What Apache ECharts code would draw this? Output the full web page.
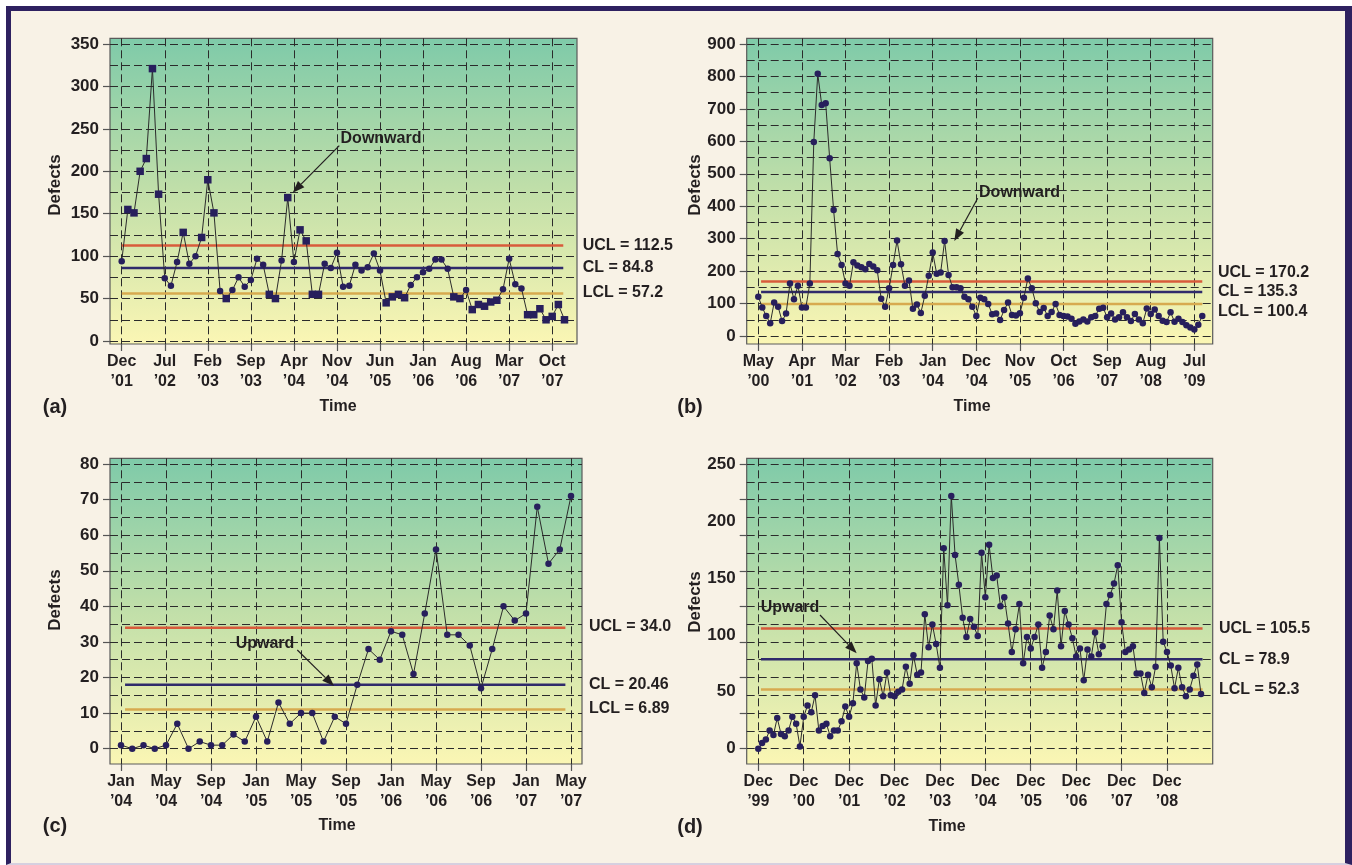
<!DOCTYPE html>
<html>
<head>
<meta charset="utf-8">
<script src="https://cdn.jsdelivr.net/npm/echarts@6/dist/echarts.min.js"></script>
<style>
  html, body { margin: 0; padding: 0; background: #fff; }
  #frame { position: absolute; left: 6px; top: 6px; width: 1334px; height: 852px;
           border: 5px solid #2e2160; border-right-width: 7px; border-bottom: 2px solid #d6d0e0;
           background: #f8f2e6; }
  #chart { position: absolute; left: 0; top: 0; width: 1352px; height: 865px; }
</style>
</head>
<body>
<div id="frame"></div>
<div id="chart"></div>
<script>
// ---- data (monthly defect counts) ----
var aTicks = ['Dec\n\u201901', 'Jul\n\u201902', 'Feb\n\u201903', 'Sep\n\u201903', 'Apr\n\u201904', 'Nov\n\u201904',
              'Jun\n\u201905', 'Jan\n\u201906', 'Aug\n\u201906', 'Mar\n\u201907', 'Oct\n\u201907'];
var aDefects = [94, 155, 151, 200, 215, 321, 173, 74, 65, 93,
                128, 91, 100, 122, 190, 151, 59, 50, 60, 75,
                64, 72, 97, 90, 55, 50, 95, 169, 93, 131,
                118, 55, 55, 91, 86, 104, 64, 65, 90, 83,
                87, 103, 83, 45, 52, 55, 51, 66, 75, 81,
                85, 96, 96, 85, 52, 50, 60, 37, 43, 41,
                46, 48, 61, 97, 67, 62, 31, 31, 38, 25,
                29, 43, 25];
var aLimits = [112.5, 86, 56];           // UCL, CL, LCL as drawn
var aLimitText = ['UCL = 112.5', 'CL = 84.8', 'LCL = 57.2'];
var aLimitSpan = [0, 71.8];              // months covered by the limit lines

var bTicks = ['May\n\u201900', 'Apr\n\u201901', 'Mar\n\u201902', 'Feb\n\u201903', 'Jan\n\u201904', 'Dec\n\u201904',
              'Nov\n\u201905', 'Oct\n\u201906', 'Sep\n\u201907', 'Aug\n\u201908', 'Jul\n\u201909'];
var bDefects = [121, 88, 62, 39, 103, 90, 46, 69, 162, 113,
                155, 88, 88, 162, 598, 808, 712, 717, 548, 388,
                253, 219, 162, 155, 227, 217, 212, 206, 222, 214,
                203, 115, 90, 147, 219, 294, 221, 155, 171, 84,
                97, 71, 124, 186, 257, 192, 196, 293, 188, 150,
                150, 147, 121, 113, 90, 62, 118, 113, 99, 67,
                69, 49, 80, 103, 65, 63, 70, 118, 177, 147,
                101, 74, 86, 62, 74, 99, 65, 62, 60, 53,
                38, 45, 51, 45, 58, 62, 84, 87, 58, 69,
                51, 58, 73, 58, 46, 68, 51, 39, 85, 68,
                82, 62, 47, 43, 73, 44, 53, 43, 33, 26,
                20, 35, 62];
var bLimits = [168, 135.3, 99];
var bLimitText = ['UCL = 170.2', 'CL = 135.3', 'LCL = 100.4'];
var bLimitSpan = [0.7, 112];

var cTicks = ['Jan\n\u201904', 'May\n\u201904', 'Sep\n\u201904', 'Jan\n\u201905', 'May\n\u201905', 'Sep\n\u201905',
              'Jan\n\u201906', 'May\n\u201906', 'Sep\n\u201906', 'Jan\n\u201907', 'May\n\u201907'];
var cDefects = [1, 0, 1, 0, 1, 7, 0, 2, 1, 1,
                4, 2, 9, 2, 13, 7, 10, 10, 2, 9,
                7, 18, 28, 25, 33, 32, 21, 38, 56, 32,
                32, 29, 17, 28, 40, 36, 38, 68, 52, 56,
                71];
var cLimits = [34, 18, 11];
var cLimitText = ['UCL = 34.0', 'CL = 20.46', 'LCL = 6.89'];
var cLimitSpan = [0.36, 39.5];

var dTicks = ['Dec\n\u201999', 'Dec\n\u201900', 'Dec\n\u201901', 'Dec\n\u201902', 'Dec\n\u201903',
              'Dec\n\u201904', 'Dec\n\u201905', 'Dec\n\u201906', 'Dec\n\u201907', 'Dec\n\u201908'];
var dDefects = [0, 5, 8, 16, 12, 27, 13, 11, 16, 28,
                22, 2, 28, 38, 32, 47, 16, 20, 22, 11,
                16, 16, 24, 37, 28, 40, 75, 52, 45, 77,
                79, 38, 61, 46, 67, 47, 46, 50, 52, 72,
                57, 82, 65, 67, 118, 89, 109, 92, 71, 176,
                126, 222, 170, 144, 115, 98, 114, 107, 99, 172,
                133, 179, 150, 152, 125, 133, 110, 85, 105, 127,
                75, 98, 88, 98, 109, 71, 85, 117, 105, 139,
                90, 121, 109, 97, 81, 88, 60, 87, 81, 102,
                83, 90, 127, 135, 145, 161, 111, 85, 87, 90,
                66, 66, 49, 65, 54, 72, 185, 94, 85, 73,
                53, 71, 54, 46, 52, 64, 74, 48];
var dLimits = [105.5, 78.5, 52];
var dLimitText = ['UCL = 105.5', 'CL = 78.9', 'LCL = 52.3'];
var dLimitSpan = [0.7, 117.4];

// ---- styling ----
var FONT = '"Liberation Sans", Arial, sans-serif';
var INK = '#231f20';
var GRIDLINE = { type: [8, 4], color: '#2b2b2b', width: 1 };
var LIMIT_COLORS = ['#d85b3b', '#2f2a6b', '#d7aa4f'];
var DOT = '#271f5c';

var grids = [], xAxes = [], yAxes = [], series = [], elements = [];

function addPanel(p) {
  var box = p.box;
  var lastTick = (p.ticks.length - 1) * p.step;
  var xLast = p.x0 + lastTick * p.pxm;
  var pxu = (p.y0 - p.yTop) / p.yMax;

  // plot background
  elements.push({
    type: 'rect', z: -10, silent: true,
    shape: { x: box.l, y: box.t, width: box.r - box.l, height: box.b - box.t },
    style: {
      fill: new echarts.graphic.LinearGradient(0, 0, 0, 1, [
        { offset: 0, color: '#7ecaa9' },
        { offset: 0.5, color: '#c1dfa9' },
        { offset: 1, color: '#fbf6b4' }
      ]),
      stroke: '#5a5a5a', lineWidth: 1.2
    }
  });

  // vertical gridlines + time labels (full box height)
  var g = grids.length;
  grids.push({ left: p.x0, top: box.t, width: xLast - p.x0, height: box.b - box.t });
  xAxes.push({
    gridIndex: g, type: 'value', min: 0, max: lastTick, interval: p.step,
    axisLine: { show: false },
    axisTick: { length: 7, lineStyle: { color: '#555', width: 1.2 } },
    axisLabel: {
      showMinLabel: true, showMaxLabel: true, margin: 8,
      fontFamily: FONT, fontWeight: 'bold', fontSize: 16, lineHeight: 20, color: INK,
      formatter: function (v) { return p.ticks[Math.round(v / p.step)] || ''; }
    },
    splitLine: { show: true, lineStyle: GRIDLINE }
  });
  yAxes.push({ gridIndex: g, type: 'value', show: false, min: 0, max: 1 });

  // horizontal gridlines + defect labels (full box width)
  g = grids.length;
  grids.push({ left: box.l, top: p.yTop, width: box.r - box.l, height: p.y0 - p.yTop });
  xAxes.push({ gridIndex: g, type: 'value', show: false, min: 0, max: 1 });
  yAxes.push({
    gridIndex: g, type: 'value', position: 'left', min: 0, max: p.yMax, interval: p.yStep,
    axisLine: { show: false },
    axisTick: { length: 7, lineStyle: { color: '#555', width: 1.2 } },
    axisLabel: {
      show: !p.labelStep, margin: 11,
      fontFamily: FONT, fontWeight: 'bold', fontSize: 17, color: INK
    },
    splitLine: { show: true, lineStyle: GRIDLINE },
    minorTick: { show: false, splitNumber: 2 },
    minorSplitLine: { show: true, lineStyle: GRIDLINE }
  });
  if (p.labelStep) {
    yAxes.push({
      gridIndex: g, type: 'value', position: 'left', min: 0, max: p.yMax, interval: p.labelStep,
      axisLine: { show: false }, axisTick: { show: false }, splitLine: { show: false },
      axisLabel: { margin: 11, fontFamily: FONT, fontWeight: 'bold', fontSize: 17, color: INK }
    });
  }

  // data grid: month 0 .. box right, value 0 .. box top
  g = grids.length;
  grids.push({ left: p.x0, top: box.t, width: box.r - p.x0, height: p.y0 - box.t });
  var xi = xAxes.length, yi = yAxes.length;
  xAxes.push({ gridIndex: g, type: 'value', show: false, min: 0, max: (box.r - p.x0) / p.pxm });
  yAxes.push({ gridIndex: g, type: 'value', show: false, min: 0, max: (p.y0 - box.t) / pxu });

  p.limits.forEach(function (v, k) {
    series.push({
      type: 'line', xAxisIndex: xi, yAxisIndex: yi, clip: false, silent: true,
      symbol: 'none', z: 2,
      lineStyle: { color: LIMIT_COLORS[k], width: 2.5 },
      data: [[p.span[0], v], [p.span[1], v]]
    });
    elements.push({
      type: 'text', z: 10, x: box.r + p.labelDx, y: p.labelY[k],
      style: { text: p.limitText[k], fill: INK, font: 'bold 16px ' + FONT, align: 'left', verticalAlign: 'middle' }
    });
  });

  series.push({
    type: 'line', xAxisIndex: xi, yAxisIndex: yi, clip: false, z: 3,
    lineStyle: { color: '#2b2b2b', width: 1 },
    itemStyle: { color: DOT, borderWidth: 0 },
    symbol: 'circle', symbolSize: 6.5,
    data: p.values.map(function (v, i) {
      if (p.squares && (v > p.limits[0] || v < p.limits[2])) {
        return { value: [i, v], symbol: 'rect', symbolSize: 7.5 };
      }
      return { value: [i, v] };
    })
  });

  // titles
  elements.push({ type: 'text', z: 10, x: p.tag[0], y: p.tag[1],
    style: { text: p.tagText, fill: INK, font: 'bold 20px ' + FONT, align: 'center', verticalAlign: 'middle' } });
  elements.push({ type: 'text', z: 10, x: p.time[0], y: p.time[1],
    style: { text: 'Time', fill: INK, font: 'bold 16px ' + FONT, align: 'center', verticalAlign: 'middle' } });
  elements.push({ type: 'text', z: 10, x: p.defects[0], y: p.defects[1], rotation: Math.PI / 2,
    style: { text: 'Defects', fill: INK, font: 'bold 17px ' + FONT, align: 'center', verticalAlign: 'middle' } });

  // annotation with arrow
  var n = p.note;
  elements.push({ type: 'text', z: 10, x: n.x, y: n.y,
    style: { text: n.text, fill: INK, font: 'bold 16px ' + FONT, align: 'center', verticalAlign: 'middle' } });
  var dx = n.to[0] - n.from[0], dy = n.to[1] - n.from[1];
  var len = Math.sqrt(dx * dx + dy * dy), ux = dx / len, uy = dy / len;
  var bx = n.to[0] - ux * 12, by = n.to[1] - uy * 12;
  elements.push({ type: 'line', z: 10, shape: { x1: n.from[0], y1: n.from[1], x2: bx, y2: by },
    style: { stroke: INK, lineWidth: 1.2 } });
  elements.push({ type: 'polygon', z: 10,
    shape: { points: [n.to, [bx - uy * 4.5, by + ux * 4.5], [bx + uy * 4.5, by - ux * 4.5]] },
    style: { fill: INK } });
}

addPanel({
  box: { l: 110, t: 38.3, r: 577, b: 344 }, x0: 121.7, pxm: 6.15, step: 7, ticks: aTicks,
  y0: 341, yTop: 44, yMax: 350, yStep: 50,
  values: aDefects, squares: true, limits: aLimits, limitText: aLimitText, span: aLimitSpan,
  labelDx: 5.7, labelY: [246, 267.3, 292.3],
  tag: [55, 407], tagText: '(a)', time: [338, 407], defects: [55, 185],
  note: { text: 'Downward', x: 381, y: 139, from: [339.3, 145.7], to: [292.7, 192.7] }
});
addPanel({
  box: { l: 746.7, t: 38.3, r: 1212.7, b: 344 }, x0: 758.3, pxm: 3.964, step: 11, ticks: bTicks,
  y0: 336, yTop: 44, yMax: 900, yStep: 100,
  values: bDefects, limits: bLimits, limitText: bLimitText, span: bLimitSpan,
  labelDx: 5.3, labelY: [273, 292, 312],
  tag: [690, 407], tagText: '(b)', time: [972, 407], defects: [695, 185],
  note: { text: 'Downward', x: 1019.5, y: 192.3, from: [977.7, 198.3], to: [954.3, 241] }
});
addPanel({
  box: { l: 110, t: 458.3, r: 582, b: 764 }, x0: 121, pxm: 11.25, step: 4, ticks: cTicks,
  y0: 748.7, yTop: 464, yMax: 80, yStep: 10,
  values: cDefects, limits: cLimits, limitText: cLimitText, span: cLimitSpan,
  labelDx: 7, labelY: [626.7, 684.3, 709],
  tag: [55, 826], tagText: '(c)', time: [337, 826], defects: [55, 600],
  note: { text: 'Upward', x: 265, y: 644, from: [297.3, 650], to: [334, 686] }
});
addPanel({
  box: { l: 746.7, t: 458.3, r: 1212.7, b: 764 }, x0: 758.3, pxm: 3.784, step: 12, ticks: dTicks,
  y0: 748.7, yTop: 464, yMax: 250, yStep: 31.25, labelStep: 50,
  values: dDefects, limits: dLimits, limitText: dLimitText, span: dLimitSpan,
  labelDx: 6.3, labelY: [629, 660, 689.3],
  tag: [690, 827], tagText: '(d)', time: [947, 827], defects: [695, 602],
  note: { text: 'Upward', x: 790, y: 607.3, from: [820, 615], to: [856.7, 653.3] }
});

var chart = echarts.init(document.getElementById('chart'));
chart.setOption({
  animation: false,
  backgroundColor: 'transparent',
  grid: grids,
  xAxis: xAxes,
  yAxis: yAxes,
  series: series,
  graphic: { elements: elements }
});
</script>
</body>
</html>
